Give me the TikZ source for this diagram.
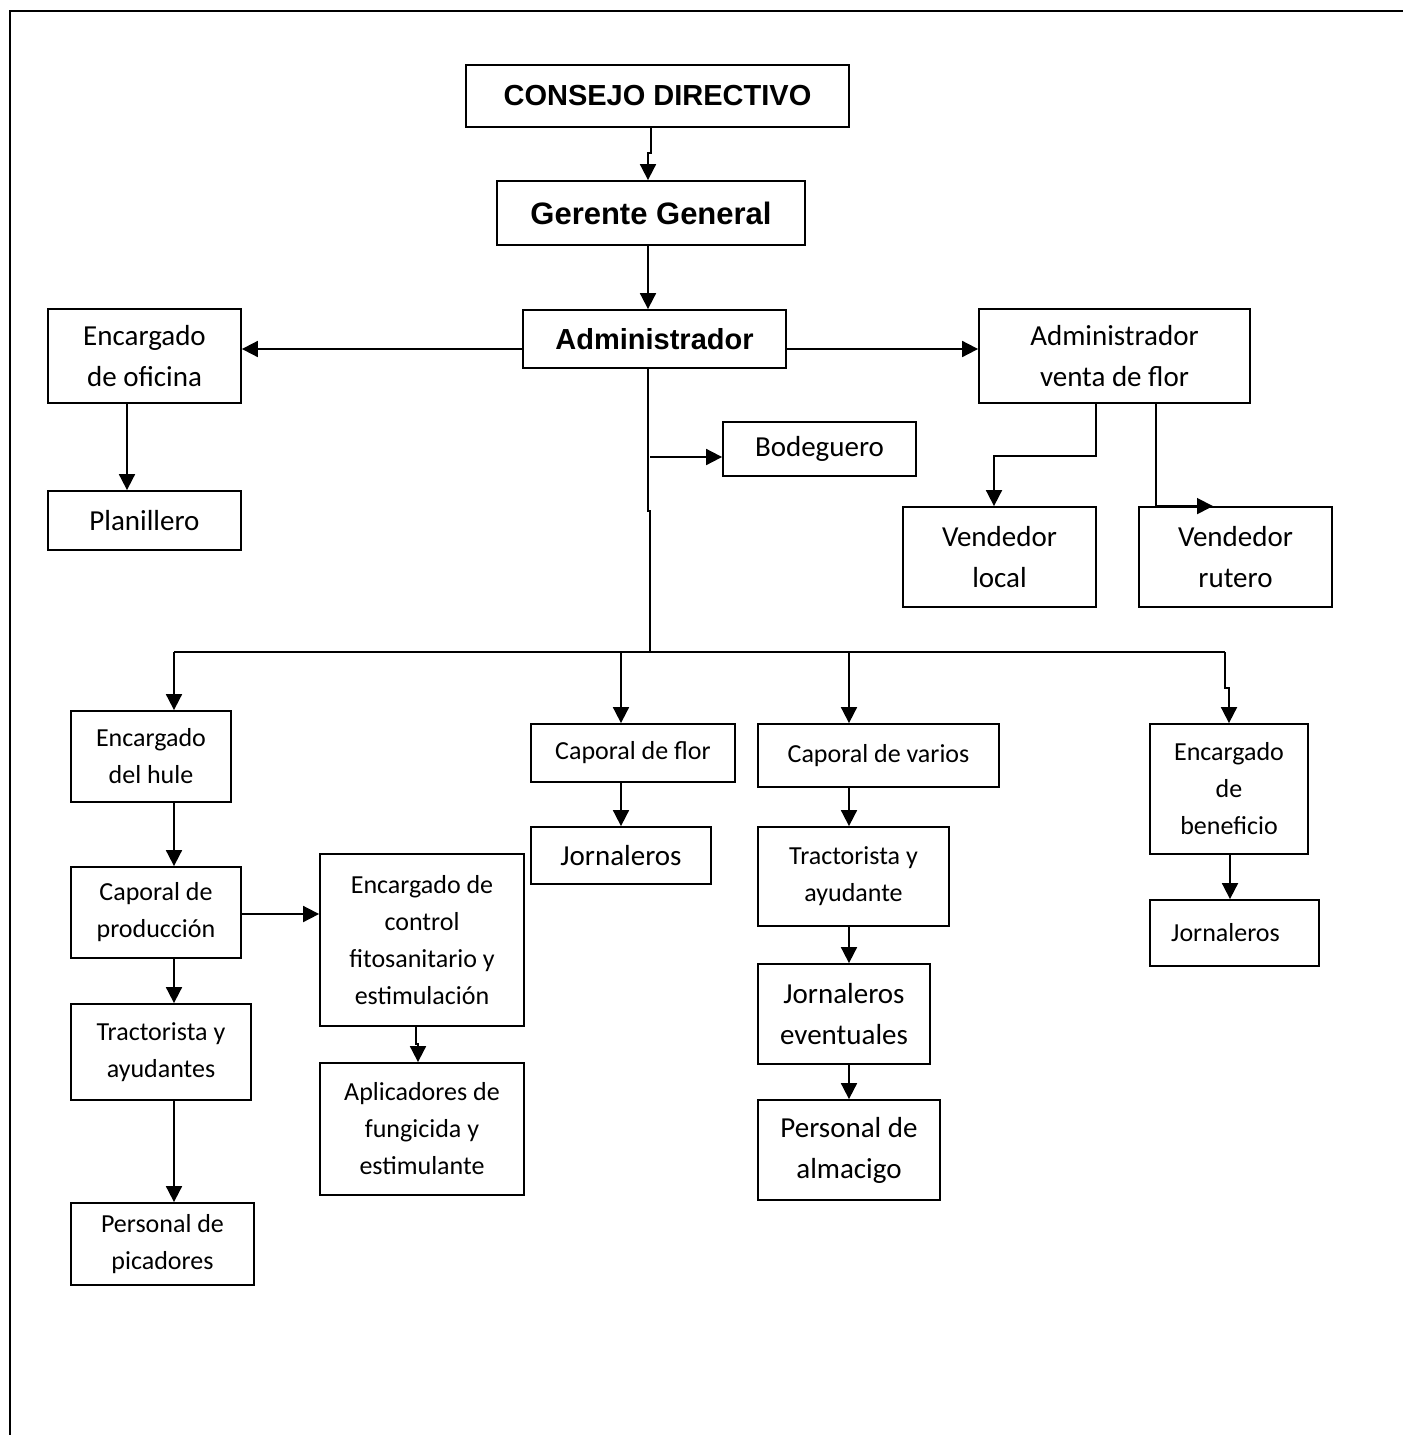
\documentclass[tikz,border=0pt]{standalone}
\usepackage{fontspec}
\setmainfont{Carlito}
\newfontfamily\arialfam{Liberation Sans}
\usetikzlibrary{arrows.meta}
\tikzset{
  box/.style={draw, line width=1.8, inner sep=0pt, align=center},
  fA/.style={font=\fontsize{26}{37}\selectfont},
  fB/.style={font=\fontsize{29}{41}\selectfont},
  fH/.style={font=\arialfam\bfseries\fontsize{29}{35}\selectfont},
  conn/.style={line width=1.8},
  arr/.style={line width=1.8, -{Triangle[width=16pt,length=16pt]}},
}
\begin{document}
\begin{tikzpicture}[x=1pt,y=-1pt]
\useasboundingbox (0,0) rectangle (1403,1435);
% frame
\draw[line width=2.4] (10,1435) -- (10,11) -- (1403,11);
% boxes
\node[box,fH,minimum width=383,minimum height=62] (cons) at (657.5,96) {CONSEJO DIRECTIVO};
\node[box,fH,font=\arialfam\bfseries\fontsize{31}{35}\selectfont,minimum width=308,minimum height=64] (ger) at (651,213) {Gerente General};
\node[box,fH,minimum width=263,minimum height=58] (adm) at (654.5,339) {Administrador};
\node[box,fB,minimum width=193,minimum height=94] (eof) at (144.5,356) {Encargado\\de oficina};
\node[box,fB,minimum width=193,minimum height=59] (plan) at (144.5,520.5) {Planillero};
\node[box,fB,minimum width=271,minimum height=94] (avf) at (1114.5,356) {Administrador\\venta de flor};
\node[box,fB,minimum width=193,minimum height=54] (bod) at (819.5,449) {Bodeguero};
\node[box,fB,minimum width=193,minimum height=100] (vl) at (999.5,557) {Vendedor\\local};
\node[box,fB,minimum width=193,minimum height=100] (vr) at (1235.5,557) {Vendedor\\rutero};
\node[box,fA,minimum width=160,minimum height=91] (eh) at (151,756.5) {Encargado\\del hule};
\node[box,fA,minimum width=204,minimum height=58] (cf) at (633,753) {Caporal de flor};
\node[box,fA,minimum width=241,minimum height=63] (cv) at (878.5,755.5) {Caporal de varios};
\node[box,fA,minimum width=158,minimum height=130] (eb) at (1229,789) {Encargado\\de\\beneficio};
\node[box,fB,minimum width=180,minimum height=57] (jf) at (621,855.5) {Jornaleros};
\node[box,fA,minimum width=191,minimum height=99] (ta) at (853.5,876.5) {Tractorista y\\ayudante};
\node[box,fA,minimum width=169,minimum height=66] (jb) at (1234.5,933) {Jornaleros\hspace{18pt}};
\node[box,fA,minimum width=170,minimum height=91] (cp) at (156,912.5) {Caporal de\\producción};
\node[box,fA,minimum width=204,minimum height=172] (ec) at (422,940) {Encargado de\\control\\fitosanitario y\\estimulación};
\node[box,fB,minimum width=172,minimum height=100] (je) at (844,1014) {Jornaleros\\eventuales};
\node[box,fA,minimum width=180,minimum height=96] (tas) at (161,1052) {Tractorista y\\ayudantes};
\node[box,fA,minimum width=204,minimum height=132] (apl) at (422,1129) {Aplicadores de\\fungicida y\\estimulante};
\node[box,fB,minimum width=182,minimum height=100] (pa) at (849,1150) {Personal de\\almacigo};
\node[box,fA,minimum width=183,minimum height=82] (pp) at (162.5,1244) {Personal de\\picadores};
% connectors
\draw[arr] ([xshift=-6.5]cons.south) -- ++(0,25) -- ++(-3,0) -- ([xshift=-3]ger.north);
\draw[arr] ([xshift=-3]ger.south) -- ([xshift=-6.5]adm.north);
\draw[arr] ([yshift=-10]adm.west) -- ([yshift=-10]adm.west -| eof.east);
\draw[arr] ([yshift=-10]adm.east) -- ([yshift=-10]adm.east -| avf.west);
\draw[arr] ([xshift=-17.5]eof.south) -- ([xshift=-17.5]plan.north);
% trunk
\coordinate (bj) at (650,457);
\coordinate (busL) at (174,652);
\coordinate (busM) at (650,652);
\coordinate (bus2) at (621,652);
\coordinate (bus3) at (849,652);
\coordinate (busR) at (1225,652);
\draw[conn] ([xshift=-6.5]adm.south) -- ++(0,142) -- ++(2,0) -- (busM);
\draw[arr] (bj) -- (bj -| bod.west);
\draw[conn] (busL) -- (busR);
\draw[arr] (busL) -- (busL |- eh.north);
\draw[arr] (bus2) -- (bus2 |- cf.north);
\draw[arr] (bus3) -- (bus3 |- cv.north);
\draw[arr] (busR) -- ++(0,36) -| (eb.north);
% sales
\draw[arr] ([xshift=-18.5]avf.south) -- ++(0,52) -| ([xshift=-5.5]vl.north);
\draw[arr] ([xshift=41.5]avf.south) -- ([xshift=41.5]avf.south |- vr.north) -- ([xshift=-22.5]vr.north);
% left column
\draw[arr] ([xshift=23]eh.south) -- ([xshift=23]eh.south |- cp.north);
\draw[arr] ([yshift=-1.5]cp.east) -- ([yshift=-1.5]cp.east -| ec.west);
\draw[arr] ([xshift=18]cp.south) -- ([xshift=18]cp.south |- tas.north);
\draw[arr] ([xshift=13]tas.south) -- ([xshift=13]tas.south |- pp.north);
\draw[arr] ([xshift=-6]ec.south) -- ++(0,17) -- ++(2,0) -- ([xshift=-4]apl.north);
% middle
\draw[arr] ([xshift=-12]cf.south) -- (jf.north);
\draw[arr] ([xshift=-29.5]cv.south) -- ([xshift=-29.5]cv.south |- ta.north);
\draw[arr] ([xshift=-4.5]ta.south) -- ([xshift=-4.5]ta.south |- je.north);
\draw[arr] ([xshift=5]je.south) -- (pa.north);
\draw[arr] ([xshift=1]eb.south) -- ([xshift=1]eb.south |- jb.north);
\end{tikzpicture}
\end{document}
